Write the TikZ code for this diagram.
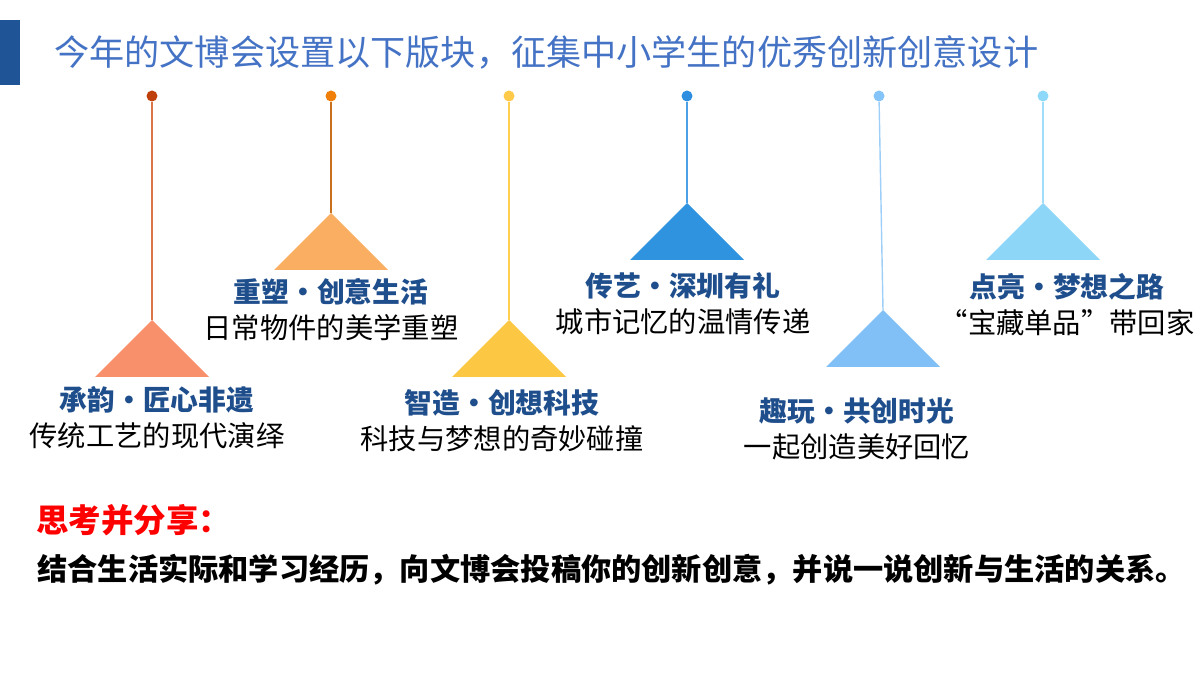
\documentclass[tikz,border=0pt]{standalone}
\usepackage{fontspec}
\setmainfont{Noto Sans CJK SC}
\definecolor{barblue}{HTML}{1F5496}
\definecolor{titleblue}{HTML}{4472C4}
\definecolor{headblue}{HTML}{1F4E8C}
\definecolor{dot1}{HTML}{C0400B}\definecolor{line1}{HTML}{D8764A}\definecolor{tri1}{HTML}{F8906C}
\definecolor{dot2}{HTML}{F07F09}\definecolor{line2}{HTML}{C8701C}\definecolor{tri2}{HTML}{FAAE62}
\definecolor{dot3}{HTML}{FFC94A}\definecolor{line3}{HTML}{FFD050}\definecolor{tri3}{HTML}{FCC844}
\definecolor{dot4}{HTML}{2E8FE0}\definecolor{line4}{HTML}{4BA0E6}\definecolor{tri4}{HTML}{2F93E0}
\definecolor{dot5}{HTML}{85C4F8}\definecolor{line5}{HTML}{9ECFF8}\definecolor{tri5}{HTML}{80C0F7}
\definecolor{dot6}{HTML}{8ED8FA}\definecolor{line6}{HTML}{A0DDF8}\definecolor{tri6}{HTML}{8DD6F8}
\usetikzlibrary{positioning}
\begin{document}
\begin{tikzpicture}[x=0.02cm, y=-0.02cm,
    dot/.style={circle, inner sep=0pt, minimum size=0.22cm},
    head/.style={font=\fontsize{15.8}{18}\selectfont\bfseries, text=headblue, inner sep=0pt},
    sub/.style={font=\fontsize{16.1}{18}\selectfont, text=black, inner sep=0pt}]
  \useasboundingbox (0,0) rectangle (1200,675);
  \fill[barblue] (0,20) rectangle (20,85);
  \node[anchor=west, inner sep=0pt, text=titleblue, font=\fontsize{20}{22}\selectfont]
    (title) at (54,52) {今年的文博会设置以下版块，征集中小学生的优秀创新创意设计};
  % pendants: dot x / apex x / apex y / label x / label y / title / subtitle
  \foreach \i/\dx/\tx/\ty/\lx/\ly/\h/\s in {
      1/152/152/320/157/400/承韵・匠心非遗/传统工艺的现代演绎,
      2/331/331/213/331/292/重塑・创意生活/日常物件的美学重塑,
      3/509/509/320/502/403/智造・创想科技/科技与梦想的奇妙碰撞,
      4/687/687/203/683/286/传艺・深圳有礼/城市记忆的温情传递,
      5/879/883/310/857/411/趣玩・共创时光/一起创造美好回忆,
      6/1043/1043/203/1067/287/点亮・梦想之路/“宝藏单品”带回家} {
    \node[dot, fill=dot\i] (d\i) at (\dx,96) {};
    \coordinate (t\i) at (\tx,\ty);
    \draw[line\i, line width=0.8pt] (d\i) -- (t\i);
    \fill[tri\i] (t\i) -- ++(-57,57) -- ++(114,0) -- cycle;
    \node[head] (h\i) at (\lx,\ly) {\h};
    \node[sub] (s\i) at (\lx,\ly+36) {\s};
  }
  \node[anchor=west, inner sep=0pt, text=red, font=\fontsize{18.5}{22}\selectfont\bfseries]
    (think) at (36,520) {思考并分享：};
  \node[anchor=west, inner sep=0pt, font=\fontsize{17.2}{20}\selectfont\bfseries]
    (task) at (37,570) {结合生活实际和学习经历，向文博会投稿你的创新创意，并说一说创新与生活的关系。};
\end{tikzpicture}
\end{document}
